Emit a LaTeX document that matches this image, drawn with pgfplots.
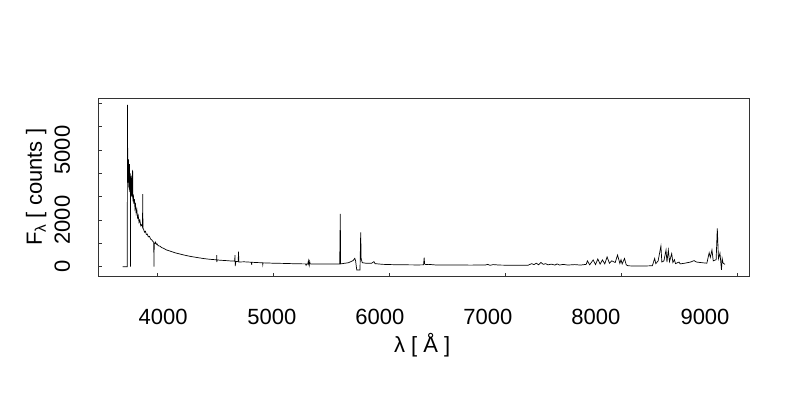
\documentclass[border=0pt]{standalone}
\usepackage{fontspec}
\setmainfont{Liberation Sans}
\usepackage{pgfplots}
\pgfplotsset{compat=1.18}
\begin{document}
\begin{tikzpicture}[x=1pt,y=1pt]
\useasboundingbox (0,0) rectangle (800,400);
\begin{axis}[
  at={(98pt,123.3pt)}, anchor=south west,
  scale only axis, width=651pt, height=178.7pt,
  xmin=3491.4, xmax=9103.4, ymin=-429, ymax=7230,
  scaled ticks=false,
  xtick pos=bottom, ytick pos=left,
  axis line style={line width=0.8pt, color=black!80},
  tick align=inside, major tick length=4pt,
  tick style={line width=0.8pt, black!80},
  xtick={4000,5000,...,9000}, xticklabels={},
  extra x ticks={4052,4991,5922,6853,7784,8724},
  extra x tick labels={4000,5000,6000,7000,8000,9000},
  extra x tick style={tick style={draw=none}, xticklabel style={yshift=-29pt}},
  ytick={0,1000,...,7000},
  yticklabels={0,,2000,,,5000,,},
  yticklabel style={rotate=90, anchor=south, yshift=24.5pt},
  every tick label/.append style={font=\fontsize{22}{26}\selectfont},
  label style={font=\fontsize{22}{26}\selectfont},
  xlabel={λ [ Å ]},
  xlabel style={at={(axis description cs:0.498,-0.382)}, anchor=center},
  ylabel={F\textsubscript{λ} [ counts ]},
  ylabel style={at={(axis description cs:-0.095,0.5)}, anchor=center, rotate=0},
  clip=true,
]
\addplot[black, line width=0.7pt] coordinates {
(3704,0) (3744,0) (3745,6930) (3747,5075) (3750,4300) (3752,3600) (3754,4600)
(3756,3400) (3758,4200) (3760,3300) (3763,4400) (3766,3200) (3769,4000)
(3771,3500) (3772,0) (3773,3600) (3776,3100) (3779,3900) (3782,3000)
(3786,3600) (3790,4145) (3792,2800) (3796,3100) (3800,2700) (3805,2900)
(3810,2500) (3815,2650) (3820,2300) (3826,2450) (3832,2100) (3838,2200)
(3845,1900) (3852,2000) (3860,1750) (3868,1800) (3875,1700) (3877,3115)
(3879,1650) (3885,1600) (3892,1480) (3900,1520) (3908,1380) (3916,1400)
(3925,1280) (3935,1300) (3945,1180) (3955,1150) (3965,1080) (3972,1050)
(3974,0) (3976,1020) (3985,1000) (3988,1050) (3994,960) (4000,980)
(4010,900) (4025,880) (4040,820) (4060,780) (4080,720) (4100,690)
(4130,640) (4160,590) (4200,540) (4250,480) (4300,430) (4350,390)
(4400,350) (4450,320) (4500,300) (4514,290) (4515,500) (4516,200)
(4518,290) (4550,275) (4600,260) (4650,240) (4670,240) (4672,500)
(4674,30) (4680,220) (4700,230) (4703,645) (4705,200) (4750,210)
(4800,195) (4814,190) (4816,80) (4818,190) (4850,180) (4900,170)
(4910,170) (4912,90) (4914,165) (5000,150) (5100,140) (5200,125)
(5280,120) (5285,60) (5290,120) (5300,110) (5305,250) (5308,120)
(5312,40) (5316,220) (5320,120) (5400,115) (5500,115) (5575,118)
(5580,2260) (5583,120) (5650,170) (5690,260) (5705,360) (5712,250)
(5722,-140) (5750,-140) (5756,1475) (5760,330) (5770,170) (5800,150)
(5850,150) (5870,215) (5880,130) (5950,100) (6050,85) (6150,80)
(6250,75) (6298,80) (6303,385) (6307,110) (6320,90) (6340,100)
(6400,75) (6500,70) (6600,70) (6700,68) (6830,70) (6850,100)
(6870,60) (6900,90) (6950,70) (7000,65) (7100,65) (7200,65)
(7230,130) (7250,90) (7270,150) (7290,80) (7310,180) (7330,100)
(7350,130) (7370,80) (7400,110) (7430,70) (7450,120) (7470,70)
(7500,100) (7540,70) (7600,90) (7650,70) (7700,100) (7710,250)
(7730,80) (7760,290) (7780,90) (7800,330) (7820,110) (7840,290)
(7860,120) (7880,420) (7900,150) (7920,250) (7950,180) (7970,500)
(7990,140) (8000,300) (8010,120) (8030,350) (8045,80) (8060,40)
(8100,30) (8200,30) (8270,40) (8290,350) (8300,130) (8320,250)
(8344,887) (8352,200) (8370,250) (8388,715) (8396,200) (8408,715)
(8418,220) (8437,560) (8447,180) (8460,300) (8470,130) (8500,200)
(8510,120) (8550,150) (8600,200) (8630,260) (8650,200) (8700,170)
(8740,150) (8760,600) (8770,400) (8784,715) (8795,250) (8820,300)
(8830,1645) (8840,350) (8853,580) (8860,200) (8866,-140) (8872,350)
(8880,150) (8897,100)
};
\end{axis}
\end{tikzpicture}
\end{document}
